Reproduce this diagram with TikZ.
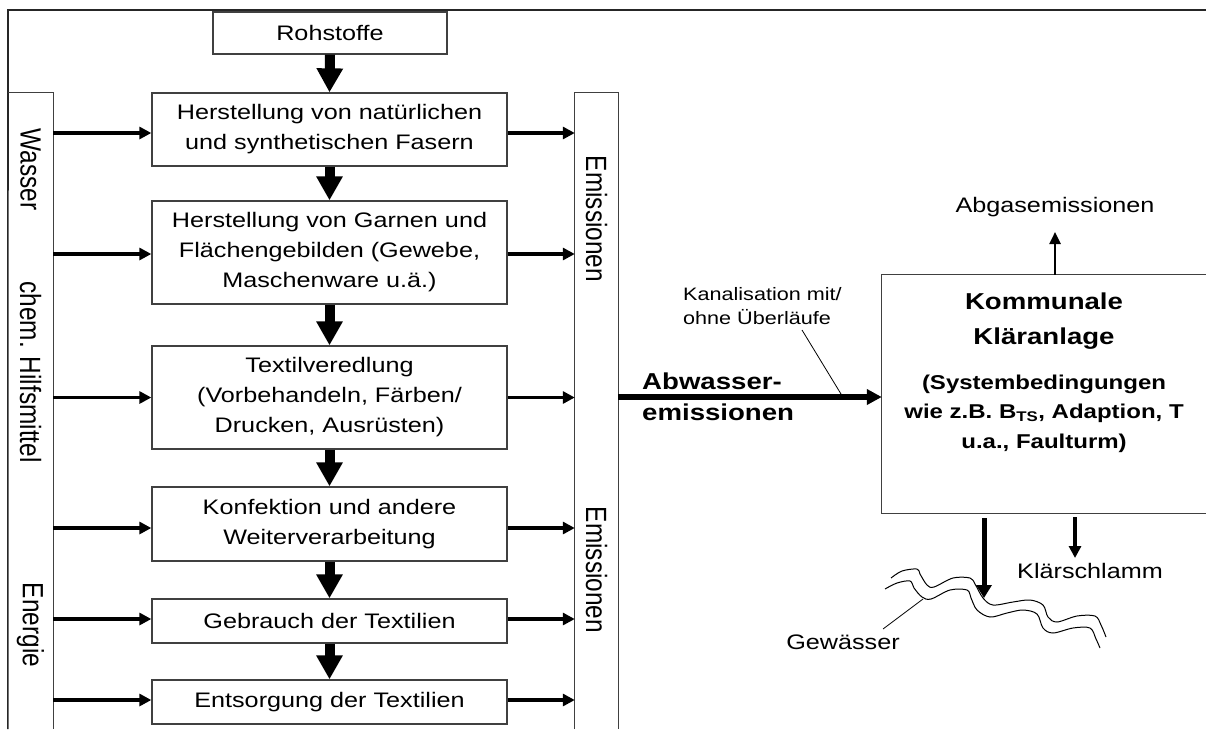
\documentclass[tikz,border=0pt]{standalone}
\usepackage{fontspec}
\usepackage{graphicx}
\setmainfont{Liberation Sans}[FakeStretch=1.2]
\newfontfamily\uprightsans{Liberation Sans}
\usetikzlibrary{arrows.meta}

% vertical labels in the side columns, read top to bottom
\newcommand{\sidelabel}[1]{\scalebox{1}[1.2]{\uprightsans\fontsize{24.4}{28}\selectfont #1}}

\begin{document}
\begin{tikzpicture}[x=1pt,y=-1pt,
  outline/.style={draw=black!75, line width=1.3pt},
  stage/.style={outline, minimum width=355pt, inner sep=0pt, align=center,
                font=\fontsize{21}{30}\selectfont},
  column/.style={inner sep=0pt, minimum width=#1},
  sidetext/.style={inner sep=0pt, rotate=-90},
  bigflow/.style={line width=10pt, -{Triangle[length=24pt,width=25pt]}},
  sideflow/.style={line width=3.5pt, -{Triangle[length=12pt,width=12pt]}},
  wasteflow/.style={line width=6pt, -{Triangle[length=15pt,width=15pt]}},
  outflow/.style={line width=5pt, -{Triangle[length=13pt,width=15pt]}},
  minorflow/.style={line width=4pt, -{Triangle[length=12pt,width=12pt]}},
  gasflow/.style={line width=2.5pt, -{Triangle[length=12pt,width=11pt]}},
  leader/.style={line width=0.8pt},
  river/.style={line width=1pt, smooth, tension=0.55},
  plain/.style={inner sep=0pt, font=\fontsize{21}{26}\selectfont}
]
\useasboundingbox (0,0) rectangle (1206,729);

% outer frame and the two side columns
\coordinate (frameTL) at (8,10);
\coordinate (frameTR) at (1206,10);
\node[column=45pt, minimum height=636pt] (lbar) at (30.5,411) {};
\node[column=43pt, minimum height=636pt] (rbar) at (596.5,411) {};
\draw[line width=1.6pt, black!85] (lbar.south west) -- (frameTL) -- (frameTR);
\draw[outline] (lbar.north west) -- (lbar.north east) -- (lbar.south east);
\draw[outline] (rbar.south west) -- (rbar.north west) -- (rbar.north east) -- (rbar.south east);

% side column labels
\node[sidetext] (wasser) at (30.5,169.5) {\sidelabel{Wasser}};
\node[sidetext] (hilfs) at (30.5,372) {\sidelabel{chem. Hilfsmittel}};
\node[sidetext] (energie) at (30.5,625) {\sidelabel{Energie}};
\node[sidetext] (emiA) at (596.5,219) {\sidelabel{Emissionen}};
\node[sidetext] (emiB) at (596.5,570) {\sidelabel{Emissionen}};

% process chain
\node[stage, minimum width=234pt, minimum height=42pt] (roh) at (330,33) {Rohstoffe};
\node[stage, minimum height=73pt] (b1) at (329.5,129.5)
  {Herstellung von natürlichen\\und synthetischen Fasern};
\node[stage, minimum height=103pt] (b2) at (329.5,252.5)
  {Herstellung von Garnen und\\Flächengebilden (Gewebe,\\Maschenware u.ä.)};
\node[stage, minimum height=103pt] (b3) at (329.5,397.5)
  {Textilveredlung\\(Vorbehandeln, Färben/\\Drucken, Ausrüsten)};
\node[stage, minimum height=74pt] (b4) at (329.5,524)
  {Konfektion und andere\\Weiterverarbeitung};
\node[stage, minimum height=44pt] (b5) at (329.5,621) {Gebrauch der Textilien};
\node[stage, minimum height=44pt] (b6) at (329.5,702) {Entsorgung der Textilien};

\draw[bigflow] (roh.south) -- (b1.north);
\draw[bigflow] (b1.south) -- (b2.north);
\draw[bigflow] (b2.south) -- (b3.north);
\draw[bigflow] (b3.south) -- (b4.north);
\draw[bigflow] (b4.south) -- (b5.north);
\draw[bigflow] (b5.south) -- (b6.north);

% inputs from the left column, emissions to the right column
\foreach \b/\s in {b1/-3.5, b2/-1.5, b3/0, b4/-4, b5/2, b6/2} {
  \draw[sideflow] ([yshift=\s pt]\b.west -| lbar.east) -- ([yshift=\s pt]\b.west);
  \draw[sideflow] ([yshift=\s pt]\b.east) -- ([yshift=\s pt]\b.east -| rbar.west);
}

% municipal treatment plant (box runs off the right edge)
\node[inner sep=0pt, minimum width=324pt, minimum height=238pt] (kl) at (1044,394) {};
\draw[outline] (kl.north east) -- (kl.north west) -- (kl.south west) -- (kl.south east);
\node[inner sep=0pt, anchor=north, align=center,
      font=\bfseries\fontsize{23}{35}\selectfont] (kltitle) at (1044,292.5)
  {Kommunale\\Kläranlage};
\node[inner sep=0pt, anchor=north, align=center,
      font=\bfseries\fontsize{20}{29.5}\selectfont] (klcond) at (1044,374.5)
  {(Systembedingungen\\wie z.B. B\textsubscript{TS}, Adaption, T\\u.a., Faulturm)};

% waste water towards the plant
\node[inner sep=0pt, anchor=north west, align=left,
      font=\bfseries\fontsize{23}{31}\selectfont] (abw) at (642,372.5)
  {Abwasser-\\emissionen};
\draw[wasteflow] ([yshift=-3pt]kl.west -| rbar.east) -- ([yshift=-3pt]kl.west);
\node[inner sep=0pt, anchor=north west, align=left,
      font=\fontsize{18}{24}\selectfont] (kanal) at (683,287)
  {Kanalisation mit/\\ohne Überläufe};
\coordinate (kanalfoot) at (802,330);
\coordinate (kanalpipe) at (841,394);
\draw[leader] (kanalfoot) -- (kanalpipe);

% exhaust gas
\node[plain, anchor=base] (abgas) at (1055,212) {Abgasemissionen};
\coordinate (abgastip) at (1055,232);
\draw[gasflow] (kl.north -| abgastip) -- (abgastip);

% effluent to the receiving water and sludge
\coordinate (rivertip) at (984,598);
\draw[outflow, shorten <=5pt] (kl.south -| rivertip) -- (rivertip);
\coordinate (sludgetip) at (1075,558);
\draw[minorflow, shorten <=4pt] (kl.south -| sludgetip) -- (sludgetip);
\node[plain, anchor=base] (schlamm) at (1090,578) {Klärschlamm};

% receiving water
\draw[river] plot coordinates {(891,578) (902,571) (917,569) (920,574) (927,585) (934,587)
  (953,578) (970,578) (975,584) (983,598) (993,605) (1013,602) (1030,600) (1043,605)
  (1048,617) (1057,622) (1077,616) (1095,616) (1101,625) (1106,637)};
\draw[river] plot coordinates {(885,589) (897,583) (910,581) (914,588) (922,597) (931,599)
  (950,590) (967,590) (971,598) (977,610) (990,617) (1007,613) (1023,610) (1037,614)
  (1043,628) (1053,633) (1073,628) (1090,628) (1096,639) (1100,648)};
\node[plain, anchor=base] (gew) at (843,649) {Gewässer};
\coordinate (gewfoot) at (883,629);
\coordinate (gewbank) at (923,599);
\draw[leader] (gewfoot) -- (gewbank);
\end{tikzpicture}
\end{document}
